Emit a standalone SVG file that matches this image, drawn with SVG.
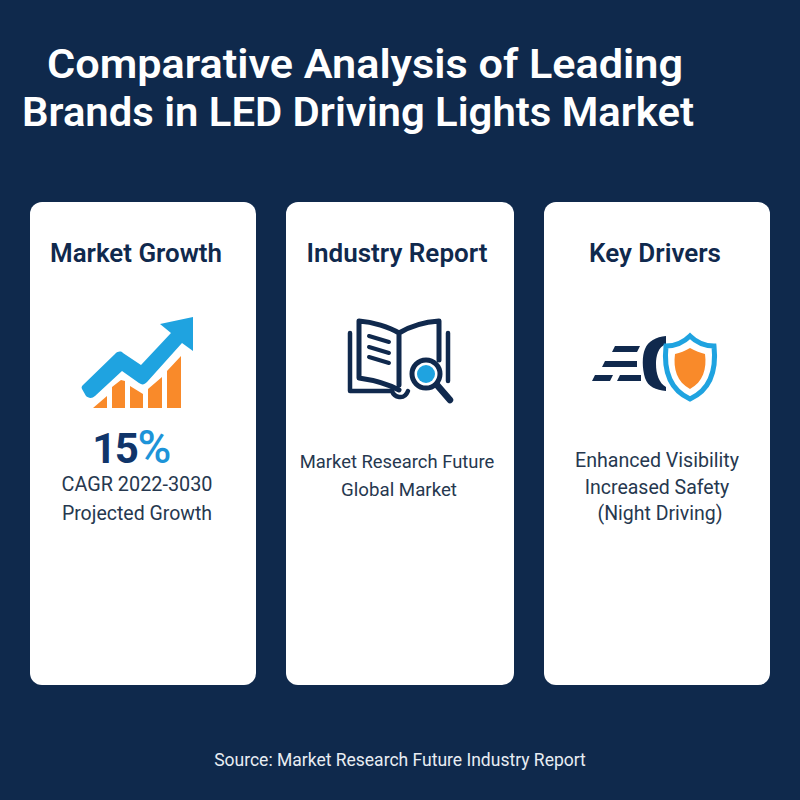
<svg xmlns="http://www.w3.org/2000/svg" width="800" height="800" viewBox="0 0 800 800">
<style>
text{font-family:"Roboto","Liberation Sans",sans-serif;text-anchor:middle}
.t{font-size:41px;font-weight:600;fill:#fff}
.h{font-size:26px;font-weight:600;fill:#10294d}
.b{font-size:19.5px;fill:#26384f}
.card{fill:#fff}
.navy{fill:none;stroke:#10294d;stroke-linecap:round;stroke-linejoin:round}
.or{fill:#f98a2a}.bl{fill:#1fa3e0}.nf{fill:#10294d}
</style>
<rect width="800" height="800" fill="#0f294c"/>
<text class="t" x="365" y="78" textLength="636" lengthAdjust="spacingAndGlyphs">Comparative Analysis of Leading</text>
<text class="t" x="358" y="126" textLength="672" lengthAdjust="spacingAndGlyphs">Brands in LED Driving Lights Market</text>
<g id="card-growth">
<rect class="card" x="30" y="202" width="226" height="483" rx="12"/>
<text class="h" x="136" y="262" textLength="172" lengthAdjust="spacingAndGlyphs">Market Growth</text>
<path class="or" d="M93 408L107 396V408ZM112 408V387L121 380L125 381V408ZM130 408V386L143 394V408ZM148 408V389L162 377V408ZM167 408V371L181 356V408Z"/>
<path class="bl" d="M82 389C81 387 82 386 83 385L115 354C118 351 121 351 123 353L141 365L171 333L160 324L193 317V351L182 343L147 382C144 385 142 385 139 383L122 371L95 396C92 399 88 398 86 396Z"/>
<text x="131" y="463" font-size="42" font-weight="700" fill="#10356a" letter-spacing="-1.5">15<tspan fill="#1d94d8" font-weight="500" font-size="46">%</tspan></text>
<text class="b" x="137" y="491" textLength="151" lengthAdjust="spacingAndGlyphs">CAGR 2022-3030</text>
<text class="b" x="137" y="520">Projected Growth</text>
</g>
<g id="card-report">
<rect class="card" x="286" y="202" width="228" height="483" rx="12"/>
<text class="h" x="397" y="262" textLength="181" lengthAdjust="spacingAndGlyphs">Industry Report</text>
<path class="navy" stroke-width="4.5" d="M350 333V391H392C394 397 404 401 408 391"/>
<path class="navy" stroke-width="4.5" d="M448 333V381"/>
<path class="navy" stroke-width="5" d="M359 321C373 322 389 327 399 333C409 327 424 322 439 321V360M359 321V378C373 380 388 384 399 390M399 333V385"/>
<path class="navy" stroke-width="4" d="M369 336L389 342M369 347L389 353M369 357L389 363"/>
<circle cx="426" cy="374" r="14" fill="#fff" stroke="#10294d" stroke-width="5"/>
<circle cx="426" cy="374" r="9" fill="#1fa3e0"/>
<path class="navy" stroke-width="6.5" d="M437 385L450 400"/>
<text class="b" x="397" y="468" style="font-size:18.4px">Market Research Future</text>
<text class="b" x="399" y="496" style="font-size:18.7px">Global Market</text>
</g>
<g id="card-drivers">
<rect class="card" x="544" y="202" width="226" height="483" rx="12"/>
<text class="h" x="655" y="262">Key Drivers</text>
<path class="nf" d="M615 346H640L637 352H612ZM605 361H637V367H602ZM595 375H613L610 381H592ZM620 375H641V381H617Z"/>
<path class="nf" d="M666 336V344C658 347 656 356 656 364C656 374 659 383 666 387V391C656 390 648 387 645 378C642 368 642 356 645 349C648 341 656 337 666 336Z"/>
<path fill="#fff" stroke="#1fa3e0" stroke-width="5" d="M690 336C696 342 705 346 714 346C716 365 714 388 690 399C666 388 664 365 666 346C675 346 684 342 690 336Z"/>
<path class="or" d="M690 348C695 351 701 353 705 354C707 369 703 382 690 389C677 382 673 369 675 354C680 353 685 351 690 348Z"/>
<text class="b" x="657" y="467" textLength="164" lengthAdjust="spacingAndGlyphs">Enhanced Visibility</text>
<text class="b" x="657" y="494">Increased Safety</text>
<text class="b" x="660" y="520">(Night Driving)</text>
</g>
<text x="400" y="766" style="font-size:17.5px" fill="#e8edf3">Source: Market Research Future Industry Report</text>
</svg>
